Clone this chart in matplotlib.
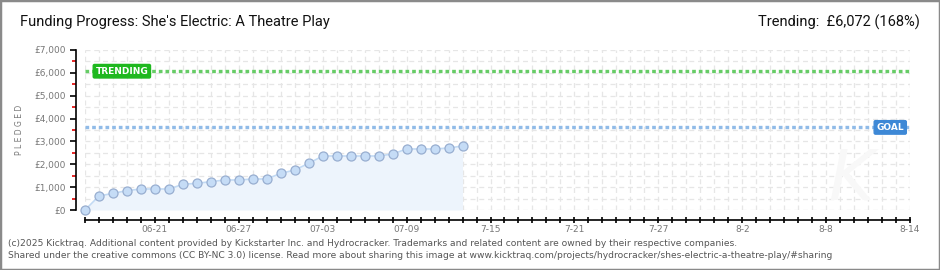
import matplotlib
matplotlib.use("Agg")
import matplotlib.pyplot as plt
from matplotlib.patches import Rectangle
import numpy as np

# --- data ---
days = ["06-16", "06-17", "06-18", "06-19", "06-20", "06-21", "06-22", "06-23",
        "06-24", "06-25", "06-26", "06-27", "06-28", "06-29", "06-30", "07-01",
        "07-02", "07-03", "07-04", "07-05", "07-06", "07-07", "07-08", "07-09",
        "07-10", "07-11", "07-12", "07-13"]
pledged = [0, 612, 729, 846, 919, 919, 919, 1123, 1167, 1240, 1312, 1312, 1356, 1356,
           1604, 1750, 2042, 2362, 2362, 2362, 2362, 2362, 2450, 2669, 2669, 2669,
           2712, 2800]
tick_labels = ["06-21", "06-27", "07-03", "07-09", "7-15", "7-21", "7-27", "8-2", "8-8", "8-14"]
n_days = 60          # 06-16 .. 08-14
goal = 3614
trending = 6072

W, H = 940, 270
fig = plt.figure(figsize=(W / 100, H / 100), dpi=100)
fig.patch.set_facecolor("white")
fig.patches.append(Rectangle((0, 0), 1, 1, transform=fig.transFigure,
                             fill=False, edgecolor="#8a8a8a", linewidth=2.5))

ax = fig.add_axes([85 / W, 60 / H, 825 / W, 160 / H])
ax.set_xlim(0, n_days - 1)
ax.set_ylim(0, 7000)
ax.set_facecolor("none")

# grid
for x in range(n_days):
    ax.axvline(x, color="#e6e6e6", lw=0.9, ls=(0, (4, 3)), zorder=0)
for y in np.arange(0, 7001, 500):
    ax.axhline(y, color="#e6e6e6", lw=0.9, ls=(0, (4, 3)), zorder=0)

# goal / trending lines
ax.axhline(trending, color="#66cc66", lw=2.4, ls=(0, (1.1, 0.9)), zorder=2)
ax.axhline(goal, color="#90bbe8", lw=2.4, ls=(0, (1.1, 0.9)), zorder=2)
ax.text(0.75, trending, "TRENDING", color="white", fontsize=6.5, fontweight="bold",
        va="center", ha="left", zorder=5,
        bbox=dict(boxstyle="round,pad=0.25,rounding_size=0.15", fc="#1fb81f", ec="#1fb81f"))
ax.text(56.6, goal, "GOAL", color="white", fontsize=6.5, fontweight="bold",
        va="center", ha="left", zorder=5,
        bbox=dict(boxstyle="round,pad=0.25,rounding_size=0.15", fc="#3d88d6", ec="#3d88d6"))

# watermark
ax.text(54.8, 1300, "K", fontsize=50, fontstyle="italic", color="#f8f8f8",
        ha="center", va="center", zorder=0)

# series
xs = np.arange(len(pledged))
ax.fill_between(xs, pledged, 0, color="#edf4fc", zorder=1, lw=0)
ax.plot(xs, pledged, color="#c2daf4", lw=1.2, zorder=3)
ax.plot(xs, pledged, "o", ms=6.5, mfc="#c5dcf6", mec="#98aed0", mew=0.9,
        zorder=4, clip_on=False)

# axes styling
for s in ["top", "right"]:
    ax.spines[s].set_visible(False)
ax.spines["left"].set_position(("outward", 6.5))
ax.spines["bottom"].set_position(("outward", 7.2))
ax.spines["left"].set_linewidth(1.2)
ax.spines["bottom"].set_linewidth(1.2)

ax.set_xticks(range(n_days))
labels = []
for i in range(n_days):
    labels.append(tick_labels[(i - 5) // 6] if i >= 5 and (i - 5) % 6 == 0 else "")
ax.set_xticklabels(labels)
ax.tick_params(axis="x", direction="inout", length=5, width=1.2, color="black",
               labelsize=6.5, labelcolor="#777777", pad=1)

ax.set_yticks(np.arange(0, 7001, 1000))
ax.set_yticklabels(["£{:,}".format(v) for v in range(0, 7001, 1000)])
ax.set_yticks(np.arange(500, 7000, 1000), minor=True)
ax.tick_params(axis="y", which="major", direction="out", length=4, width=1.2,
               color="black", labelsize=6.5, labelcolor="#777777", pad=3)
ax.tick_params(axis="y", which="minor", direction="out", length=3, width=1.2,
               color="#e00000")
ax.set_ylabel("P L E D G E D", fontsize=5.5, color="#777777", labelpad=8)

# titles
fig.text(20 / W, 1 - 22 / H, "Funding Progress: She's Electric: A Theatre Play",
         fontsize=10.5, family=["Roboto", "DejaVu Sans"],
         color="#111111", va="center", ha="left")
fig.text(920 / W, 1 - 22 / H, "Trending:  £6,072 (168%)",
         fontsize=10.5, family=["Roboto", "DejaVu Sans"],
         color="#111111", va="center", ha="right")

# footer
fig.text(8 / W, 1 - 243 / H,
         "(c)2025 Kicktraq. Additional content provided by Kickstarter Inc. and Hydrocracker. "
         "Trademarks and related content are owned by their respective companies.",
         fontsize=6.6, color="#555555", va="center", ha="left")
fig.text(8 / W, 1 - 256 / H,
         "Shared under the creative commons (CC BY-NC 3.0) license. Read more about sharing this "
         "image at www.kicktraq.com/projects/hydrocracker/shes-electric-a-theatre-play/#sharing",
         fontsize=6.6, color="#555555", va="center", ha="left")

fig.savefig("out.png", dpi=100)
